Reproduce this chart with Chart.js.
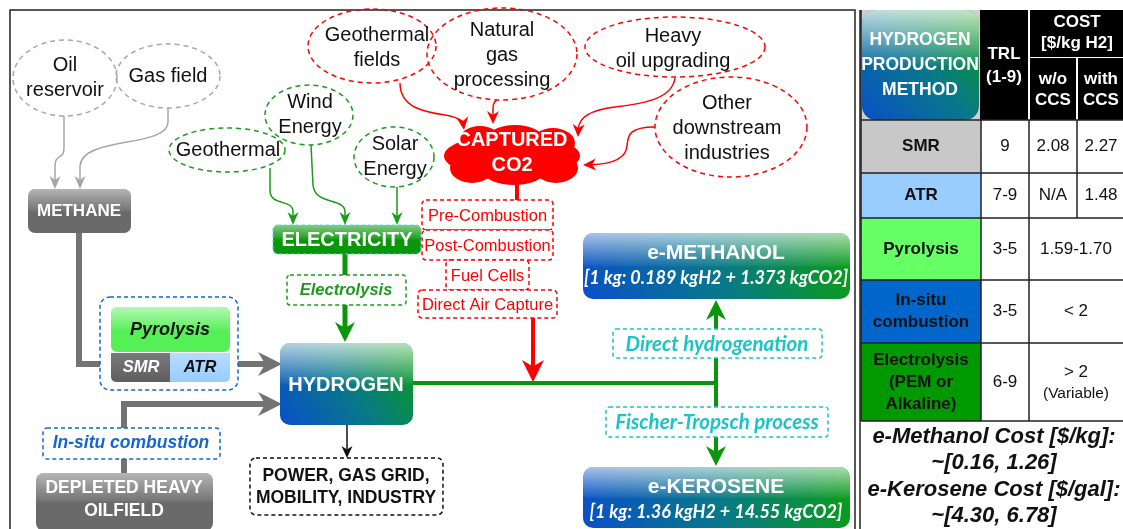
<!DOCTYPE html>
<html>
<head>
<meta charset="utf-8">
<style>
  html, body { margin: 0; padding: 0; background: #fff; }
  canvas { display: block; }
</style>
</head>
<body>
<canvas id="chart" width="1123" height="529"></canvas>
<script src="https://cdn.jsdelivr.net/npm/chart.js"></script>
<script>
// table data
const methods = ['SMR', 'ATR', 'Pyrolysis', 'In-situ\ncombustion', 'Electrolysis\n(PEM or\nAlkaline)'];
const trl = ['9', '7-9', '3-5', '3-5', '6-9'];
const costNoCcs = ['2.08', 'N/A', '1.59-1.70', '< 2', '> 2'];
const costCcs = ['2.27', '1.48', null, null, null];
const costNotes = [null, null, null, null, '(Variable)'];
const fuelCosts = ['e-Methanol Cost [$/kg]:', '~[0.16, 1.26]', 'e-Kerosene Cost [$/gal]:', '~[4.30, 6.78]'];

// flow chart labels
const fossilSources = ['Oil\nreservoir', 'Gas field'];
const renewableSources = ['Geothermal', 'Wind\nEnergy', 'Solar\nEnergy'];
const co2Sources = ['Geothermal\nfields', 'Natural\ngas\nprocessing', 'Heavy\noil upgrading', 'Other\ndownstream\nindustries'];
const captureMethods = ['Pre-Combustion', 'Post-Combustion', 'Fuel Cells', 'Direct Air Capture'];
const routes = ['Direct hydrogenation', 'Fischer-Tropsch process'];
const products = ['e-METHANOL', 'e-KEROSENE'];
const recipes = ['[1 kg: 0.189 kgH2 + 1.373 kgCO2]', '[1 kg: 1.36 kgH2 + 14.55 kgCO2]'];

// layout (diagram units)
const fossilPos = [[65, 78, 52, 38], [168, 76, 52, 32]];
const renewPos = [[227, 150, 58, 22], [309, 115, 44, 30], [394, 157, 40, 30]];
const co2Pos = [[372, 46, 64, 37], [502, 54, 75, 46], [675, 47, 90, 30], [731, 127, 76, 50]];
const capturePos = [[422, 200, 131, 30], [422, 230, 131, 30], [446, 260, 83, 30], [418, 290, 139, 28]];
const colEdges = [861, 981, 1029, 1077, 1123];
const rowEdges = [120, 173, 218, 280, 343, 421];
const methodColors = ['#c8c8c8', '#99ccff', '#66ff66', '#0066cc', '#009900'];

const GREEN = '#1c9a1c', RED = '#ff0000', GRAY = '#a6a6a6', DGRAY = '#737373', CYAN = '#1cc4c4', BLUE = '#1466d2';
const F = '"Liberation Sans", Arial, sans-serif';
const FC = 'Lato, "Liberation Sans", sans-serif';

const diagram = {
  id: 'diagram',
  afterDraw(chart) {
    const ctx = chart.ctx;
    const X = v => chart.scales.x.getPixelForValue(v);
    const Y = v => chart.scales.y.getPixelForValue(v);

    function text(str, cx, cy, font, color, lh) {
      const ls = str.split('\n');
      ctx.font = font; ctx.fillStyle = color;
      ctx.textAlign = 'center'; ctx.textBaseline = 'middle';
      ls.forEach((l, i) => ctx.fillText(l, X(cx), Y(cy + (i - (ls.length - 1) / 2) * (lh || 24))));
    }
    function ellipse(p, color) {
      ctx.save();
      ctx.beginPath();
      ctx.ellipse(X(p[0]), Y(p[1]), p[2], p[3], 0, 0, Math.PI * 2);
      ctx.setLineDash([5, 4]); ctx.lineWidth = 1.5; ctx.strokeStyle = color; ctx.stroke();
      ctx.restore();
    }
    function dashBox(x, y, w, h, color, r) {
      ctx.save();
      ctx.beginPath(); ctx.roundRect(X(x), Y(y), w, h, r || 4);
      ctx.fillStyle = '#fff'; ctx.fill();
      ctx.setLineDash([4, 3]); ctx.lineWidth = 1.5; ctx.strokeStyle = color; ctx.stroke();
      ctx.restore();
    }
    function glossBox(x, y, w, h, r, fill, gloss) {
      ctx.save();
      ctx.beginPath(); ctx.roundRect(X(x), Y(y), w, h, r);
      ctx.fillStyle = fill; ctx.fill();
      const g = ctx.createLinearGradient(0, Y(y), 0, Y(y + h));
      g.addColorStop(0, 'rgba(255,255,255,' + (gloss || 0.6) + ')');
      g.addColorStop(0.48, 'rgba(255,255,255,0.08)');
      g.addColorStop(0.52, 'rgba(255,255,255,0)');
      g.addColorStop(1, 'rgba(255,255,255,0)');
      ctx.fillStyle = g; ctx.fill();
      ctx.restore();
    }
    function blueGreen(x, y, w, h) {
      const g = ctx.createLinearGradient(X(x), Y(y + h), X(x + w), Y(y));
      g.addColorStop(0, '#0a50c8'); g.addColorStop(0.5, '#08788a'); g.addColorStop(1, '#0a9e14');
      return g;
    }
    function vGrad(y, h, top, bottom) {
      const g = ctx.createLinearGradient(0, Y(y), 0, Y(y + h));
      g.addColorStop(0, top); g.addColorStop(1, bottom);
      return g;
    }
    function head(tx, ty, ang, len, wid, color) {
      ctx.save();
      ctx.translate(X(tx), Y(ty)); ctx.rotate(ang);
      ctx.beginPath();
      ctx.moveTo(0, 0); ctx.lineTo(-len, -wid / 2); ctx.lineTo(-len * 0.7, 0); ctx.lineTo(-len, wid / 2);
      ctx.closePath(); ctx.fillStyle = color; ctx.fill();
      ctx.restore();
    }
    // path: [['M',x,y],['L',x,y],['C',x1,y1,x2,y2,x,y]]
    function path(cmds, color, lw, hl, hw) {
      let prev = null, last = null;
      cmds.forEach(c => {
        if (c[0] === 'M') { last = [c[1], c[2]]; }
        else if (c[0] === 'L') { prev = last; last = [c[1], c[2]]; }
        else { prev = [c[3], c[4]]; last = [c[5], c[6]]; }
      });
      const ang = Math.atan2(last[1] - prev[1], last[0] - prev[0]);
      const back = hl ? hl * 0.65 : 0;
      ctx.save();
      ctx.beginPath();
      cmds.forEach((c, i) => {
        const isLast = i === cmds.length - 1;
        let ex = c[c.length - 2], ey = c[c.length - 1];
        if (isLast && hl) { ex -= Math.cos(ang) * back; ey -= Math.sin(ang) * back; }
        if (c[0] === 'M') ctx.moveTo(X(ex), Y(ey));
        else if (c[0] === 'L') ctx.lineTo(X(ex), Y(ey));
        else ctx.bezierCurveTo(X(c[1]), Y(c[2]), X(c[3]), Y(c[4]), X(ex), Y(ey));
      });
      ctx.lineWidth = lw; ctx.strokeStyle = color; ctx.lineJoin = 'miter'; ctx.lineCap = 'butt';
      ctx.stroke();
      ctx.restore();
      if (hl) head(last[0], last[1], ang, hl, hw, color);
    }

    // panel frames
    ctx.save();
    ctx.strokeStyle = '#222'; ctx.lineWidth = 1.5;
    ctx.beginPath();
    ctx.moveTo(X(10), Y(529)); ctx.lineTo(X(10), Y(10)); ctx.lineTo(X(855), Y(10)); ctx.lineTo(X(855), Y(529));
    ctx.moveTo(X(860), Y(529)); ctx.lineTo(X(860), Y(10));
    ctx.stroke();
    ctx.restore();

    // ---- thin source arrows ----
    path([['M', 64, 116], ['L', 64, 148], ['C', 64, 160, 55, 153, 55, 166], ['L', 55, 189]], GRAY, 1.5, 13, 11);
    path([['M', 168, 108], ['L', 168, 122], ['C', 168, 148, 82, 136, 80, 166], ['L', 80, 189]], GRAY, 1.5, 13, 11);
    path([['M', 270, 168], ['L', 270, 190], ['C', 270, 207, 293, 198, 293, 212], ['L', 293, 225]], GREEN, 1.5, 13, 11);
    path([['M', 311, 145], ['L', 313, 185], ['C', 315, 206, 345, 197, 345, 212], ['L', 345, 225]], GREEN, 1.5, 13, 11);
    path([['M', 397, 187], ['L', 397, 225]], GREEN, 1.5, 13, 11);
    path([['M', 400, 83], ['C', 400, 108, 425, 112, 445, 115], ['C', 458, 117, 463, 122, 464, 130]], RED, 1.5, 13, 12);
    path([['M', 497, 100], ['C', 493, 102, 493, 106, 493, 110], ['L', 493, 124]], RED, 1.5, 13, 12);
    path([['M', 675, 78], ['C', 672, 100, 640, 104, 615, 107], ['C', 590, 110, 579, 118, 578, 137]], RED, 1.5, 13, 12);
    path([['M', 655, 127], ['C', 628, 127, 628, 136, 627, 146], ['C', 626, 160, 610, 164, 583, 165]], RED, 1.5, 13, 12);

    // ---- thick flow lines ----
    path([['M', 79, 233], ['L', 79, 364], ['L', 100, 364]], DGRAY, 6);
    path([['M', 238, 364], ['L', 282, 364]], DGRAY, 6, 24, 24);
    path([['M', 124, 473], ['L', 124, 404], ['L', 282, 404]], DGRAY, 6, 24, 24);
    path([['M', 345, 254], ['L', 345, 342]], '#0a960a', 5, 20, 20);
    path([['M', 517, 184], ['L', 517, 200]], RED, 4);
    path([['M', 533, 318], ['L', 533, 382]], RED, 4, 22, 22);
    path([['M', 413, 383], ['L', 716, 383]], '#0a960a', 4);
    path([['M', 716, 383], ['L', 716, 300]], '#0a960a', 4, 20, 20);
    path([['M', 716, 383], ['L', 716, 466]], '#0a960a', 4, 20, 20);
    path([['M', 347, 425], ['L', 347, 458]], '#111', 1.5, 12, 11);

    // ---- ellipses ----
    fossilSources.forEach((s, i) => { ellipse(fossilPos[i], '#a8a8a8'); text(s, fossilPos[i][0], fossilPos[i][1], '20px ' + F, '#111', 25); });
    renewableSources.forEach((s, i) => { ellipse(renewPos[i], GREEN); text(s, renewPos[i][0] + 1, renewPos[i][1], '20px ' + F, '#111', 25); });
    const co2Text = [[377, 48], [502, 55], [673, 49], [727, 128]];
    co2Sources.forEach((s, i) => { ellipse(co2Pos[i], RED); text(s, co2Text[i][0], co2Text[i][1], '20px ' + F, '#111', 25); });

    // ---- captured CO2 cloud ----
    ctx.save();
    ctx.fillStyle = RED;
    ctx.beginPath();
    [[512, 156, 68, 22], [480, 142, 22, 16], [515, 141, 30, 16], [553, 143, 22, 15], [472, 168, 22, 15], [514, 172, 30, 13], [556, 168, 22, 15]]
      .forEach(e => { ctx.moveTo(X(e[0] + e[2]), Y(e[1])); ctx.ellipse(X(e[0]), Y(e[1]), e[2], e[3], 0, 0, Math.PI * 2); });
    ctx.fill();
    ctx.restore();
    text('CAPTURED\nCO2', 512, 153, 'bold 20px ' + F, '#fff', 25);

    // ---- capture methods ----
    captureMethods.forEach((s, i) => {
      const b = capturePos[i];
      dashBox(b[0], b[1], b[2], b[3], RED, 4);
      text(s, b[0] + b[2] / 2, b[1] + b[3] / 2 + 1, '16.5px ' + F, RED);
    });

    // ---- boxes ----
    glossBox(28, 189, 103, 44, 7, '#6a6a6a', 0.5);
    text('METHANE', 79, 211, 'bold 17px ' + F, '#fff');

    glossBox(273, 225, 148, 29, 5, '#0a960a', 0.5);
    ctx.save(); ctx.beginPath(); ctx.roundRect(X(273), Y(225), 148, 29, 5);
    ctx.setLineDash([3, 3]); ctx.strokeStyle = '#5ad8e0'; ctx.lineWidth = 1.2; ctx.stroke(); ctx.restore();
    text('ELECTRICITY', 347, 240, 'bold 20px ' + F, '#fff');

    dashBox(287, 275, 119, 30, GREEN, 3);
    text('Electrolysis', 346, 290, 'italic bold 16.5px ' + F, GREEN);

    dashBox(100, 297, 138, 93, BLUE, 10);
    glossBox(111, 307, 119, 45, 6, '#55f055', 0.55);
    text('Pyrolysis', 170, 330, 'italic bold 18px ' + F, '#111');
    ctx.save(); ctx.beginPath(); ctx.roundRect(X(111), Y(353), 59, 29, [0, 0, 0, 5]); ctx.fillStyle = vGrad(353, 29, '#7a7a7a', '#5e5e5e'); ctx.fill(); ctx.restore();
    ctx.save(); ctx.beginPath(); ctx.roundRect(X(170), Y(353), 60, 29, [0, 0, 5, 0]); ctx.fillStyle = vGrad(353, 29, '#b8dcff', '#99ccff'); ctx.fill(); ctx.restore();
    text('SMR', 141, 367, 'italic bold 16.5px ' + F, '#fff');
    text('ATR', 200, 367, 'italic bold 16.5px ' + F, '#111');

    dashBox(43, 428, 177, 31, BLUE, 4);
    text('In-situ combustion', 131, 443, 'italic bold 17.5px ' + F, BLUE);

    glossBox(36, 473, 177, 58, 8, '#6a6a6a', 0.5);
    text('DEPLETED HEAVY\nOILFIELD', 124, 500, 'bold 17.5px ' + F, '#fff', 23);

    glossBox(280, 343, 133, 82, 10, blueGreen(280, 343, 133, 82), 0.7);
    text('HYDROGEN', 346, 385, 'bold 20px ' + F, '#fff');

    dashBox(250, 458, 193, 57, '#111', 6);
    text('POWER, GAS GRID,\nMOBILITY, INDUSTRY', 346, 487, 'bold 17.5px ' + F, '#111', 22);

    dashBox(613, 329, 209, 29, CYAN, 3);
    text(routes[0], 717, 344, 'italic bold 20.5px ' + FC, CYAN);
    dashBox(606, 407, 222, 30, CYAN, 3);
    text(routes[1], 717, 422, 'italic bold 20.5px ' + FC, CYAN);

    [[583, 233, 267, 66], [583, 467, 267, 61]].forEach((b, i) => {
      glossBox(b[0], b[1], b[2], b[3], 10, blueGreen(b[0], b[1], b[2], b[3]), 0.65);
      text(products[i], 716, b[1] + 20, 'bold 21px ' + F, '#fff');
      text(recipes[i], 716, b[1] + 45, 'italic bold 18px ' + FC, '#fff');
    });

    // ---- table ----
    const [x0, x1, x2, x3, x4] = colEdges;
    ctx.save();
    ctx.fillStyle = '#cfcfcf'; ctx.fillRect(X(x0), Y(10), x1 - x0, 110);
    ctx.restore();
    glossBox(x0 + 1, 10, 117, 110, 14, blueGreen(x0 + 1, 10, 117, 110), 0.75);
    text('HYDROGEN\nPRODUCTION\nMETHOD', 920, 65, 'bold 17.5px ' + F, '#fff', 25);
    ctx.save();
    ctx.fillStyle = '#000';
    ctx.fillRect(X(980), Y(10), 48, 110);
    ctx.fillRect(X(1030), Y(10), x4 - 1030, 47);
    ctx.fillRect(X(1030), Y(58), 46, 62);
    ctx.fillRect(X(1078), Y(58), x4 - 1078, 62);
    ctx.restore();
    text('TRL\n(1-9)', 1004, 66, 'bold 17px ' + F, '#fff', 23);
    text('COST\n[$/kg H2]', 1077, 33, 'bold 17px ' + F, '#fff', 21);
    text('w/o\nCCS', 1053, 90, 'bold 17px ' + F, '#fff', 21);
    text('with\nCCS', 1101, 90, 'bold 17px ' + F, '#fff', 21);

    methods.forEach((m, i) => {
      const top = rowEdges[i], bot = rowEdges[i + 1], cy = (top + bot) / 2;
      ctx.save(); ctx.fillStyle = methodColors[i]; ctx.fillRect(X(x0), Y(top), x1 - x0, bot - top); ctx.restore();
      text(m, (x0 + x1) / 2, cy, 'bold 17px ' + F, '#111', 22);
      text(trl[i], (x1 + x2) / 2, cy, '17px ' + F, '#111');
      if (costCcs[i] !== null) {
        text(costNoCcs[i], (x2 + x3) / 2, cy, '17px ' + F, '#111');
        text(costCcs[i], (x3 + x4) / 2 + 1, cy, '17px ' + F, '#111');
      } else if (costNotes[i]) {
        text(costNoCcs[i], (x2 + x4) / 2, cy - 10, '17px ' + F, '#111');
        text(costNotes[i], (x2 + x4) / 2, cy + 12, '15.5px ' + F, '#111');
      } else {
        text(costNoCcs[i], (x2 + x4) / 2, cy, '17px ' + F, '#111');
      }
    });
    ctx.save();
    ctx.strokeStyle = '#222'; ctx.lineWidth = 1.5;
    ctx.beginPath();
    rowEdges.forEach(r => { ctx.moveTo(X(x0), Y(r)); ctx.lineTo(X(x4), Y(r)); });
    ctx.moveTo(X(x0), Y(10)); ctx.lineTo(X(x0), Y(421));
    ctx.moveTo(X(x1), Y(120)); ctx.lineTo(X(x1), Y(421));
    ctx.moveTo(X(x2), Y(120)); ctx.lineTo(X(x2), Y(421));
    ctx.moveTo(X(x3), Y(120)); ctx.lineTo(X(x3), Y(218));
    ctx.stroke();
    ctx.restore();

    [437, 463, 490, 516].forEach((y, i) => text(fuelCosts[i], 994, y, 'italic bold 22px ' + F, '#111'));
  }
};

new Chart(document.getElementById('chart'), {
  type: 'scatter',
  data: { datasets: [] },
  options: {
    responsive: false,
    animation: false,
    devicePixelRatio: 1,
    layout: { padding: 0 },
    scales: {
      x: { type: 'linear', min: 0, max: 1123, display: false },
      y: { type: 'linear', min: 0, max: 529, reverse: true, display: false }
    },
    plugins: { legend: { display: false }, tooltip: { enabled: false } }
  },
  plugins: [diagram]
});
</script>
</body>
</html>
